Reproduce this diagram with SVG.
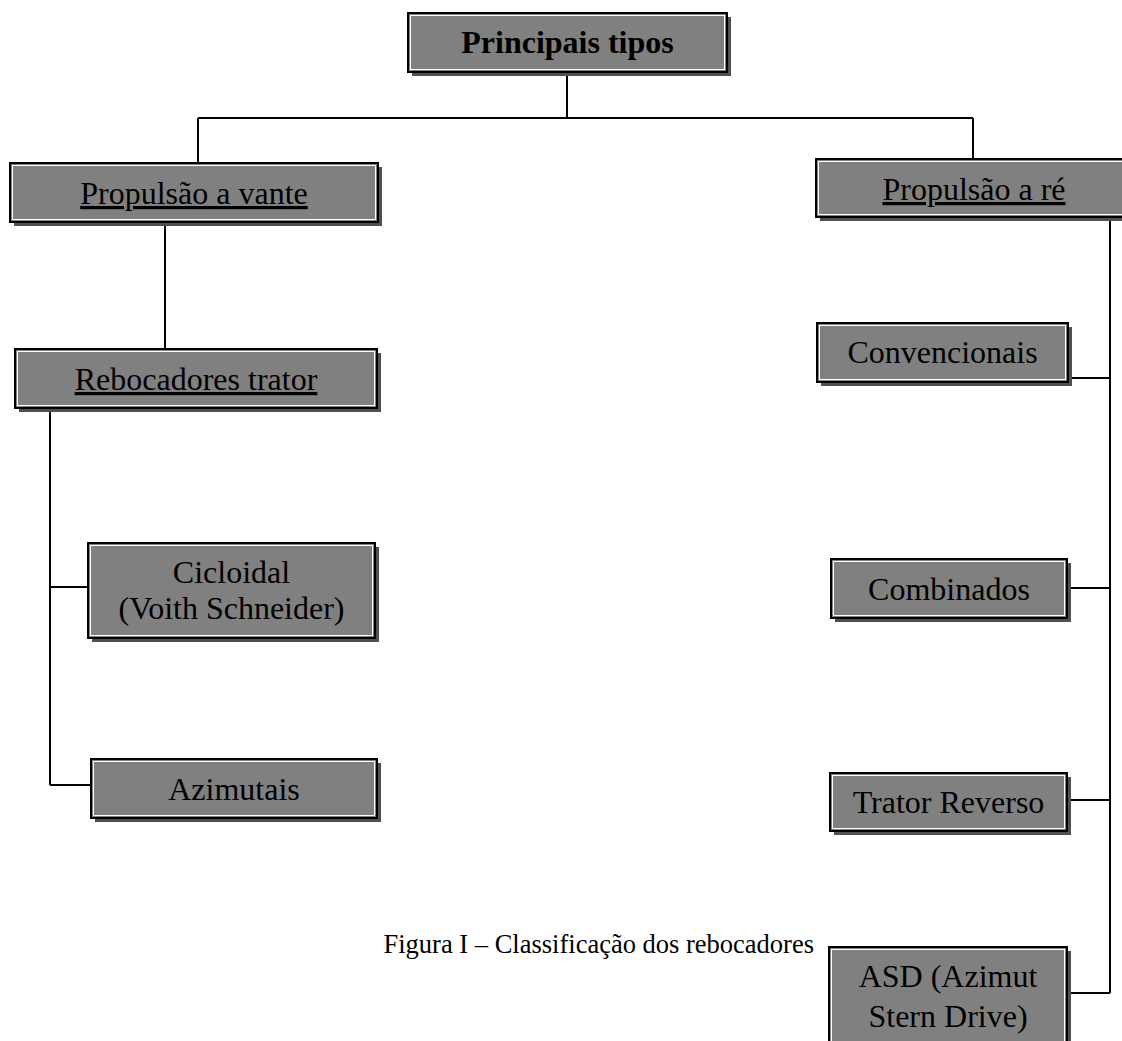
<svg xmlns="http://www.w3.org/2000/svg" width="1122" height="1041" viewBox="0 0 1122 1041">
<style>
.sh{fill:#505050}
.bx{fill:#808080;stroke:#000;stroke-width:2}
.in{fill:none;stroke:#fff;stroke-width:1}
.t{font-family:"Liberation Serif","Times New Roman",serif;font-size:32px;fill:#000;text-anchor:middle}
.b{font-weight:bold}
.u{text-decoration:underline}
.cap{font-family:"Liberation Serif","Times New Roman",serif;font-size:26.5px;fill:#000;text-anchor:end}
.c{fill:none;stroke:#000;stroke-width:2}
</style>
<rect width="1122" height="1041" fill="#fff"/>
<g id="connectors">
<path class="c" d="M567 72V118M198 118H973M198 118V163M973 118V159"/>
<path class="c" d="M165 222V349"/>
<path class="c" d="M50 408V785M50 587H88M50 785H91"/>
<path class="c" d="M1110 217V993M1068 378H1110M1067 588H1110M1067 800H1110M1067 993H1110"/>
</g>
<g id="principais">
<rect class="sh" x="412" y="17" width="319" height="59"/>
<rect class="bx" x="408" y="13" width="319" height="59"/>
<rect class="in" x="410.5" y="15.5" width="314" height="54"/>
<text class="t b" x="567.5" y="53">Principais tipos</text>
</g>
<g id="vante">
<rect class="sh" x="14" y="167" width="368" height="59"/>
<rect class="bx" x="10" y="163" width="368" height="59"/>
<rect class="in" x="12.5" y="165.5" width="363" height="54"/>
<text class="t u" x="194" y="204">Propulsão a vante</text>
</g>
<g id="re">
<rect class="sh" x="820" y="163" width="316" height="58"/>
<rect class="bx" x="816" y="159" width="316" height="58"/>
<rect class="in" x="818.5" y="161.5" width="311" height="53"/>
<text class="t u" x="974" y="200">Propulsão a ré</text>
</g>
<g id="trator">
<rect class="sh" x="19" y="353" width="362" height="59"/>
<rect class="bx" x="15" y="349" width="362" height="59"/>
<rect class="in" x="17.5" y="351.5" width="357" height="54"/>
<text class="t u" x="196" y="390">Rebocadores trator</text>
</g>
<g id="cicloidal">
<rect class="sh" x="92" y="547" width="287" height="95"/>
<rect class="bx" x="88" y="543" width="287" height="95"/>
<rect class="in" x="90.5" y="545.5" width="282" height="90"/>
<text class="t" x="231.5" y="583">Cicloidal</text>
<text class="t" x="231.5" y="619">(Voith Schneider)</text>
</g>
<g id="azimutais">
<rect class="sh" x="95" y="763" width="286" height="59"/>
<rect class="bx" x="91" y="759" width="286" height="59"/>
<rect class="in" x="93.5" y="761.5" width="281" height="54"/>
<text class="t" x="234" y="800">Azimutais</text>
</g>
<g id="convencionais">
<rect class="sh" x="821" y="327" width="251" height="59"/>
<rect class="bx" x="817" y="323" width="251" height="59"/>
<rect class="in" x="819.5" y="325.5" width="246" height="54"/>
<text class="t" x="942.5" y="363">Convencionais</text>
</g>
<g id="combinados">
<rect class="sh" x="835" y="563" width="236" height="59"/>
<rect class="bx" x="831" y="559" width="236" height="59"/>
<rect class="in" x="833.5" y="561.5" width="231" height="54"/>
<text class="t" x="949" y="600">Combinados</text>
</g>
<g id="reverso">
<rect class="sh" x="834" y="777" width="237" height="58"/>
<rect class="bx" x="830" y="773" width="237" height="58"/>
<rect class="in" x="832.5" y="775.5" width="232" height="53"/>
<text class="t" x="948.5" y="813">Trator Reverso</text>
</g>
<g id="asd">
<rect class="sh" x="833" y="951" width="238" height="110"/>
<rect class="bx" x="829" y="947" width="238" height="110"/>
<rect class="in" x="831.5" y="949.5" width="233" height="105"/>
<text class="t" x="948" y="987">ASD (Azimut</text>
<text class="t" x="948" y="1027">Stern Drive)</text>
</g>
<text class="cap" x="814" y="953">Figura I – Classificação dos rebocadores</text>
</svg>
